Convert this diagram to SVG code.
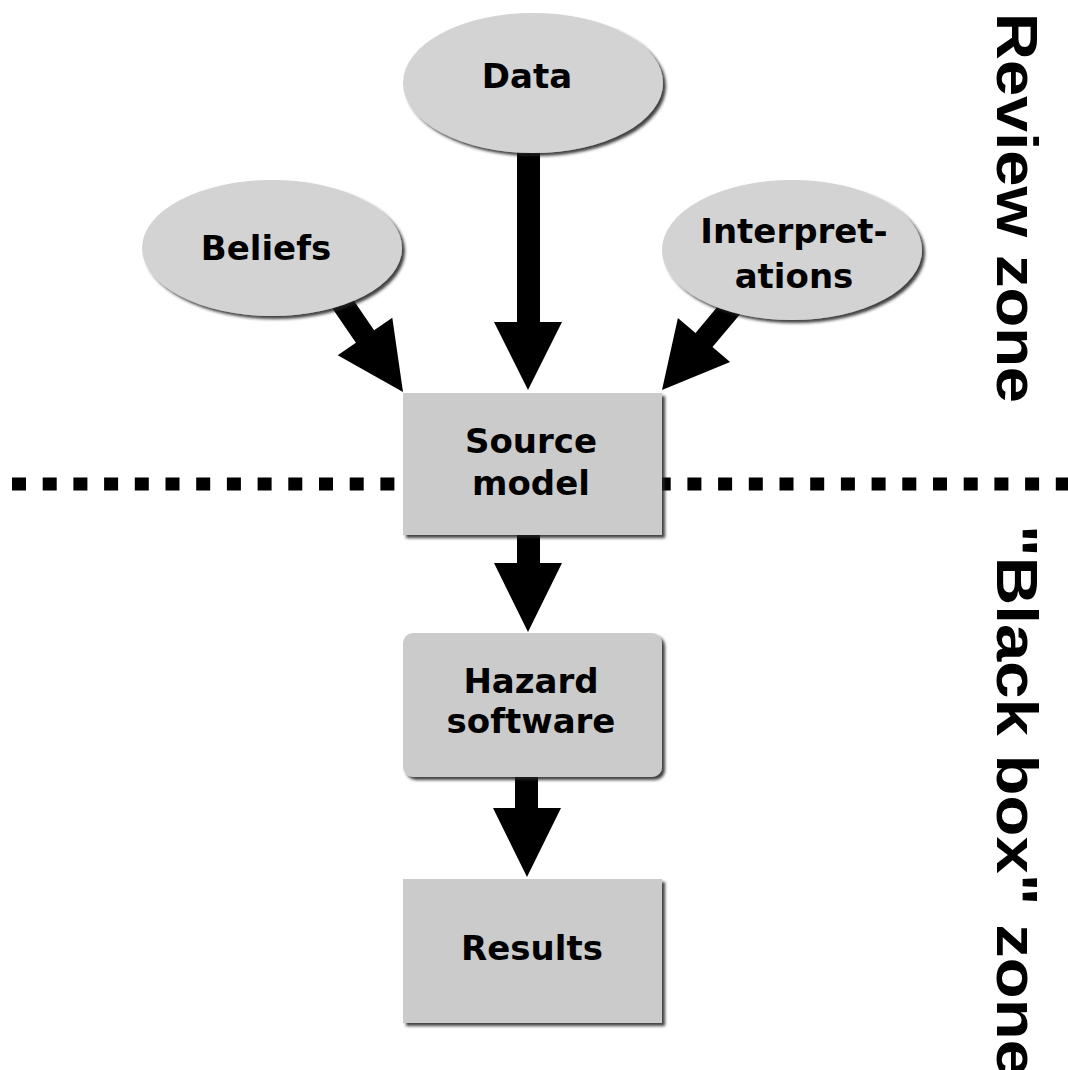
<svg xmlns="http://www.w3.org/2000/svg" width="1068" height="1070" viewBox="0 0 1068 1070">
<defs>
<filter id="sh" x="-10%" y="-10%" width="125%" height="125%">
<feDropShadow dx="3" dy="3" stdDeviation="1.5" flood-color="#222" flood-opacity="0.85"/>
</filter>
<style>
.ell{fill:#d3d3d3;filter:url(#sh)}
.box{fill:#cbcbcb;filter:url(#sh)}
.lbl{font-family:"DejaVu Sans",Verdana,sans-serif;font-weight:bold;font-size:34px;fill:#000;text-anchor:middle}
.zone{font-family:"Liberation Sans",Arial,sans-serif;font-weight:bold;font-size:58px;fill:#000}
.arr{fill:#000}
</style>
</defs>
<rect width="1068" height="1070" fill="#fff"/>
<g id="divider">
<line x1="12" y1="484" x2="1068" y2="484" stroke="#000" stroke-width="13" stroke-dasharray="14 16.7"/>
</g>
<g id="connectors">
<polygon class="arr" points="517,140 540,140 540,322 562,322 528,390 494,322 517,322"/>
<polygon class="arr" points="517,530 540,530 540,563 562,563 528,632 494,563 517,563"/>
<polygon class="arr" points="515,772 538,772 538,808 561,808 527,877 493,808 515,808"/>
<polygon class="arr" points="330.4,305.4 355.9,342.7 337.7,355.2 403,392 392.3,317.8 374.1,330.3 348.6,293"/>
<polygon class="arr" points="724.5,298.3 695.5,332.9 677.9,318 662,390 730.1,362 712.5,347.1 741.5,312.5"/>
</g>
<g id="data">
<ellipse class="ell" cx="533" cy="83" rx="130" ry="70"/>
<text class="lbl" x="527" y="88">Data</text>
</g>
<g id="beliefs">
<ellipse class="ell" cx="272" cy="248" rx="130" ry="68"/>
<text class="lbl" x="266" y="260">Beliefs</text>
</g>
<g id="interpretations">
<ellipse class="ell" cx="792" cy="250" rx="130" ry="70"/>
<text class="lbl" x="794" y="243">Interpret-</text>
<text class="lbl" x="794" y="288">ations</text>
</g>
<g id="source-model">
<rect class="box" x="403" y="393" width="259" height="142"/>
<text class="lbl" x="531" y="453">Source</text>
<text class="lbl" x="531" y="495">model</text>
</g>
<g id="hazard-software">
<rect class="box" x="403" y="633" width="259" height="144" rx="10" ry="10"/>
<text class="lbl" x="531" y="693">Hazard</text>
<text class="lbl" x="531" y="733">software</text>
</g>
<g id="results">
<rect class="box" x="403" y="879" width="259" height="144"/>
<text class="lbl" x="532" y="960">Results</text>
</g>
<g id="zone-labels">
<text class="zone" transform="translate(997,13) rotate(90)" textLength="390" lengthAdjust="spacingAndGlyphs">Review zone</text>
<text class="zone" transform="translate(997,525) rotate(90)" textLength="552" lengthAdjust="spacingAndGlyphs">"Black box" zone</text>
</g>
</svg>
